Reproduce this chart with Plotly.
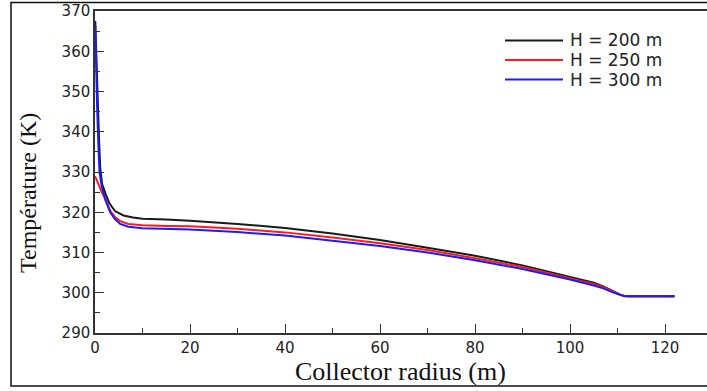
import plotly.graph_objects as go

# ---- data ----
names = ["H = 200 m", "H = 250 m", "H = 300 m"]
colors = ["#1a1a1a", "#ff1a1a", "#1a1aff"]

x_200 = [0.05, 0.2, 0.35, 0.6, 0.85, 1.1, 1.5, 2.3, 3, 4.2, 6, 8, 10, 15, 20, 30, 40, 50, 60, 70, 80, 90, 100, 105, 107, 109, 110.5, 111.5, 112.5, 122]
t_200 = [367.5, 361, 354.5, 346, 338, 331, 327, 324.3, 322.3, 320.3, 319.2, 318.7, 318.4, 318.2, 317.9, 317.1, 316.1, 314.7, 313.1, 311.2, 309.2, 306.8, 304.0, 302.5, 301.6, 300.4, 299.6, 299.2, 299.1, 299.1]

x_250 = [0, 0.5, 1, 1.5, 2.1, 3.2, 4.2, 5.3, 7, 10, 15, 20, 30, 40, 50, 60, 70, 80, 90, 100, 105, 107, 109, 110.5, 111.5, 112.5, 122]
t_250 = [329, 327.6, 326, 324.8, 323.5, 320.4, 318.8, 317.8, 317.1, 316.8, 316.6, 316.5, 315.9, 315.0, 313.7, 312.3, 310.6, 308.6, 306.4, 303.7, 302.2, 301.4, 300.3, 299.5, 299.2, 299.1, 299.1]

x_300 = [0.05, 0.15, 0.25, 0.45, 0.7, 0.95, 1.4, 2.2, 3.2, 4.2, 5.3, 7, 10, 15, 20, 30, 40, 50, 60, 70, 80, 90, 100, 105, 107, 109, 110.5, 111.5, 112.5, 122]
t_300 = [366.5, 360, 354.5, 346, 337, 330, 326.5, 323, 320, 318.3, 317.1, 316.4, 316.0, 315.9, 315.7, 315.1, 314.2, 312.9, 311.6, 310.0, 308.1, 305.9, 303.3, 301.8, 301.1, 300.1, 299.4, 299.1, 299.1, 299.1]

series_x = [x_200, x_250, x_300]
series_t = [t_200, t_250, t_300]

x_ticks = [0, 20, 40, 60, 80, 100, 120]
y_ticks = [290, 300, 310, 320, 330, 340, 350, 360, 370]

# ---- figure ----
W, H = 707, 391
ml, mr, mt, mb = 95, 0, 11, 58
pw = W - ml - mr
ph = H - mt - mb


def px_x(p):
    return (p - ml) / pw


def px_y(p):
    return (H - mb - p) / ph


fig = go.Figure()
for n, c, xs, ts in zip(names, colors, series_x, series_t):
    fig.add_trace(go.Scatter(x=xs, y=ts, mode="lines", name=n, showlegend=False,
                             line=dict(color=c, width=2)))

tickfont = dict(family="DejaVu Sans", size=15, color="#222222")
axis_common = dict(showgrid=False, zeroline=False, showline=True,
                   linecolor="#333333", linewidth=1.5,
                   ticks="inside", ticklen=9, tickwidth=1.3, tickcolor="#333333",
                   tickfont=tickfont)

fig.update_xaxes(range=[0, (W - ml) / 4.75], tickvals=x_ticks, mirror=True,
                 minor=dict(dtick=10, ticks="inside", ticklen=5, tickcolor="#333333", tickwidth=1.2),
                 **axis_common)
fig.update_yaxes(range=[290, 370], tickvals=y_ticks,
                 minor=dict(dtick=5, ticks="inside", ticklen=5, tickcolor="#333333", tickwidth=1.2),
                 **axis_common)

# axis titles
fig.add_annotation(text="Collector radius (m)", xref="paper", yref="paper",
                   x=px_x(400), y=px_y(387.5), xanchor="center", yanchor="bottom",
                   showarrow=False,
                   font=dict(family="Liberation Serif", size=26, color="#111111"))
fig.add_annotation(text="Température (K)", xref="paper", yref="paper",
                   x=px_x(28), y=px_y(193), xanchor="center", yanchor="middle",
                   textangle=-90, showarrow=False,
                   font=dict(family="Liberation Serif", size=24, color="#111111"))

# legend (drawn as line samples + labels)
legend_rows = [40.5, 60, 79.5]
for n, c, ry in zip(names, colors, legend_rows):
    fig.add_shape(type="line", xref="paper", yref="paper",
                  x0=px_x(505), x1=px_x(563), y0=px_y(ry), y1=px_y(ry),
                  line=dict(color=c, width=2))
    fig.add_annotation(text=n, xref="paper", yref="paper",
                       x=px_x(568), y=px_y(ry), xanchor="left", yanchor="middle",
                       showarrow=False,
                       font=dict(family="DejaVu Sans", size=17, color="#222222"))

# outer frame around the whole figure
fig.add_shape(type="rect", xref="paper", yref="paper",
              x0=px_x(11), x1=1.02, y0=px_y(386), y1=px_y(2.5),
              line=dict(color="#111111", width=1.5), fillcolor="rgba(0,0,0,0)", layer="below")

fig.update_layout(
    width=W, height=H,
    margin=dict(l=ml, r=mr, t=mt, b=mb),
    paper_bgcolor="white", plot_bgcolor="white",
    showlegend=False,
)

fig.write_html("out.html")
